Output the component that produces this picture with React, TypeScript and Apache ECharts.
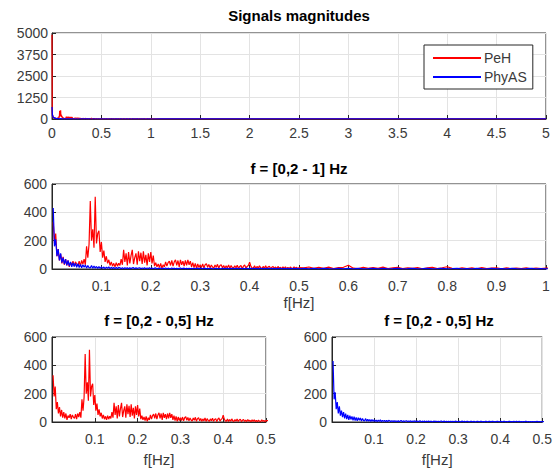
import React, { useEffect, useRef } from "react";
import * as echarts from "echarts";

// ---- data ----
const LOW_STEP = 0.0025; // 0.0025 .. 0.5 Hz
const HIGH_START = 0.51;
const HIGH_STEP = 0.01; // 0.51 .. 1.0 Hz
const TAIL_START = 1.1;
const TAIL_STEP = 0.1; // 1.1 .. 5.0 Hz

const PEH_DC = 4900;
const PHYAS_DC = 700;

const PEH_LOW = [
  330, 180, 250, 90, 140, 60, 105, 40, 85, 30,
  70, 25, 60, 15, 45, 30, 55, 20, 50, 35,
  25, 55, 20, 60, 35, 70, 30, 160, 80, 175,
  480, 200, 280, 150, 510, 180, 250, 270, 120, 190,
  80, 130, 50, 90, 40, 65, 25, 50, 20, 40,
  15, 45, 20, 40, 25, 70, 30, 135, 50, 110,
  25, 120, 40, 95, 135, 35, 80, 110, 30, 125,
  55, 115, 35, 125, 45, 100, 25, 110, 50, 120,
  40, 95, 20, 45, 15, 35, 10, 40, 5, 30,
  15, 50, 20, 45, 55, 25, 60, 20, 50, 65,
  25, 60, 15, 65, 30, 55, 20, 60, 25, 65,
  30, 55, 15, 45, 10, 40, 5, 35, 10, 30,
  10, 35, 8, 30, 38, 12, 32, 8, 28, 14,
  6, 28, 12, 33, 5, 24, 30, 8, 25, 5,
  22, 8, 28, 4, 24, 10, 6, 22, 9, 27,
  5, 18, 24, 4, 20, 28, 6, 18, 24, 48,
  20, 8, 5, 22, 4, 18, 6, 22, 8, 4,
  18, 5, 22, 4, 14, 20, 3, 12, 18, 4,
  14, 3, 18, 5, 12, 2, 15, 4, 16, 3,
  12, 2, 14, 5, 3, 16, 4, 12, 2, 10,
];
const PEH_HIGH = [
  8, 14, 4, 12, 5, 13, 3, 10, 12, 26,
  6, 3, 12, 4, 10, 5, 13, 3, 9, 11,
  3, 9, 4, 10, 2, 8, 11, 3, 9, 16,
  4, 2, 9, 3, 8, 2, 10, 3, 7, 9,
  2, 8, 2, 7, 3, 9, 2, 7, 2, 6,
];
const PEH_TAIL = [
  5, 4, 6, 3, 5, 4, 6, 3, 4, 5,
  3, 4, 5, 3, 4, 3, 5, 4, 3, 4,
  3, 4, 3, 5, 3, 4, 3, 4, 3, 4,
  3, 4, 3, 3, 4, 3, 4, 3, 3, 4,
];

const PHYAS_LOW = [
  430, 160, 210, 90, 140, 60, 110, 45, 80, 35,
  70, 25, 60, 20, 50, 15, 45, 18, 40, 12,
  38, 10, 32, 8, 30, 12, 28, 6, 25, 10,
  8, 24, 5, 20, 6, 18, 4, 17, 5, 15,
  4, 14, 3, 13, 5, 15, 2, 12, 4, 11,
  3, 12, 2, 11, 9, 2, 10, 2, 9, 3,
  8, 2, 9, 2, 8, 10, 2, 8, 3, 7,
  9, 2, 7, 3, 8, 2, 7, 3, 8, 2,
  7, 2, 6, 8, 1, 6, 2, 7, 1, 6,
  2, 7, 1, 6, 2, 1, 7, 2, 6, 1,
  6, 1, 5, 7, 1, 5, 6, 1, 5, 1,
  5, 1, 6, 1, 5, 2, 5, 6, 1, 4,
  5, 1, 4, 6, 1, 5, 1, 4, 5, 1,
  1, 5, 4, 1, 5, 1, 1, 5, 4, 1,
  4, 5, 1, 4, 1, 5, 4, 1, 4, 5,
  1, 4, 5, 1, 4, 1, 5, 4, 1, 4,
  4, 1, 4, 5, 1, 4, 1, 4, 5, 1,
  4, 1, 5, 1, 4, 4, 1, 5, 1, 4,
  1, 4, 1, 5, 4, 1, 4, 1, 4, 1,
  4, 1, 4, 1, 5, 1, 4, 1, 4, 1,
];
const PHYAS_HIGH = [
  4, 1, 4, 1, 4, 2, 1, 4, 1, 4,
  1, 4, 1, 2, 4, 1, 4, 1, 2, 4,
  1, 2, 4, 1, 2, 4, 1, 2, 4, 1,
  2, 4, 1, 2, 1, 4, 2, 1, 4, 1,
  2, 1, 4, 2, 1, 2, 4, 1, 2, 1,
];
const PHYAS_TAIL = [
  2, 2, 2, 2, 2, 2, 2, 2, 2, 2,
  2, 2, 2, 2, 2, 2, 2, 2, 2, 2,
  2, 2, 2, 2, 2, 2, 2, 2, 2, 2,
  2, 2, 2, 2, 2, 2, 2, 2, 2, 2,
];

const SERIES_NAMES = ["PeH", "PhyAS"];
const TITLES = [
  "Signals magnitudes",
  "f = [0,2 - 1] Hz",
  "f = [0,2 - 0,5] Hz",
  "f = [0,2 - 0,5] Hz",
];
const X_NAME = "f[Hz]";

// ---- helpers ----
const r4 = (v: number) => Math.round(v * 10000) / 10000;
function pairs(low: number[], high: number[], tail: number[]) {
  const out: [number, number][] = [];
  low.forEach((v, i) => out.push([r4(LOW_STEP * (i + 1)), v]));
  high.forEach((v, i) => out.push([r4(HIGH_START + HIGH_STEP * i), v]));
  tail.forEach((v, i) => out.push([r4(TAIL_START + TAIL_STEP * i), v]));
  return out;
}

const FONT = "'Liberation Sans', Arial, Helvetica, sans-serif";
const AX = "#262626";
const LBL = "#3a3a3a";
const GRID = "#e3e3e3";
const RED = "#ff0000";
const BLUE = "#0000ff";

export default function App() {
  const ref = useRef<HTMLDivElement>(null);
  useEffect(() => {
    if (!ref.current) return;
    const chart = echarts.init(ref.current, undefined, { renderer: "svg" });

    const peh = pairs(PEH_LOW, PEH_HIGH, PEH_TAIL);
    const phy = pairs(PHYAS_LOW, PHYAS_HIGH, PHYAS_TAIL);
    const pehTop: [number, number][] = [[0, PEH_DC], ...peh];
    const phyTop: [number, number][] = [[0, PHYAS_DC], ...phy];

    const grids = [
      { left: 52, top: 33, width: 494, height: 86 },
      { left: 52, top: 184, width: 494, height: 85 },
      { left: 52, top: 337, width: 214, height: 85 },
      { left: 332, top: 337, width: 214, height: 85 },
    ].map((g) => ({ ...g, show: true, borderColor: AX, borderWidth: 1, backgroundColor: "transparent" }));

    const axisLabel = { color: LBL, fontFamily: FONT, fontSize: 14 };
    const common = {
      axisLine: { show: true, onZero: false, lineStyle: { color: AX, width: 1 } },
      axisTick: { show: true, inside: true, length: 4, lineStyle: { color: AX } },
      splitLine: { show: true, lineStyle: { color: GRID, width: 1 } },
    };
    const fmtX = (v: number) => (v === 0 ? "" : String(Math.round(v * 100) / 100));
    const fmtX0 = (v: number) => String(Math.round(v * 100) / 100);
    const fmtY = (v: number) => String(Math.round(v));

    const xName = {
      name: X_NAME, nameLocation: "middle",
      nameTextStyle: { color: LBL, fontFamily: FONT, fontSize: 15 },
    };
    const xAxis = [
      { ...common, type: "value", gridIndex: 0, min: 0, max: 5, interval: 0.5, axisLabel: { ...axisLabel, margin: 7, formatter: fmtX0 } },
      { ...common, ...xName, nameGap: 26, type: "value", gridIndex: 1, min: 0, max: 1, interval: 0.1, axisLabel: { ...axisLabel, margin: 10, formatter: fmtX } },
      { ...common, ...xName, nameGap: 30, type: "value", gridIndex: 2, min: 0, max: 0.5, interval: 0.1, axisLabel: { ...axisLabel, margin: 10, formatter: fmtX } },
      { ...common, ...xName, nameGap: 30, type: "value", gridIndex: 3, min: 0, max: 0.5, interval: 0.1, axisLabel: { ...axisLabel, margin: 10, formatter: fmtX } },
    ];
    const yAxis = [
      { ...common, type: "value", gridIndex: 0, min: 0, max: 5000, interval: 1250, axisLabel: { ...axisLabel, margin: 4, formatter: fmtY } },
      { ...common, type: "value", gridIndex: 1, min: 0, max: 600, interval: 200, axisLabel: { ...axisLabel, margin: 5, formatter: fmtY } },
      { ...common, type: "value", gridIndex: 2, min: 0, max: 600, interval: 200, axisLabel: { ...axisLabel, margin: 5, formatter: fmtY } },
      { ...common, type: "value", gridIndex: 3, min: 0, max: 600, interval: 200, axisLabel: { ...axisLabel, margin: 5, formatter: fmtY } },
    ];

    const line = (name: string, color: string, idx: number, data: [number, number][], z: number) => ({
      name, type: "line", xAxisIndex: idx, yAxisIndex: idx, data,
      symbol: "none", clip: true, z,
      lineStyle: { color, width: 1.2 }, itemStyle: { color },
    });

    const titleStyle = { color: "#000", fontFamily: FONT, fontSize: 15, fontWeight: "bold" as const };
    const title = [
      { text: TITLES[0], left: 299, top: 8 },
      { text: TITLES[1], left: 299, top: 161 },
      { text: TITLES[2], left: 159, top: 313 },
      { text: TITLES[3], left: 439, top: 313 },
    ].map((t) => ({ ...t, textAlign: "center", textStyle: titleStyle, padding: 0 }));

    chart.setOption({
      animation: false,
      backgroundColor: "#fff",
      title,
      legend: {
        data: SERIES_NAMES,
        orient: "vertical",
        left: 424,
        top: 45,
        width: 108,
        backgroundColor: "#fff",
        borderColor: AX,
        borderWidth: 1,
        borderRadius: 0,
        padding: [6, 6, 5, 9],
        icon: "rect",
        itemWidth: 48,
        itemHeight: 2,
        itemGap: 5,
        textStyle: { color: LBL, fontFamily: FONT, fontSize: 14, padding: [0, 4, 0, -2] },
        z: 10,
      },
      grid: grids,
      xAxis,
      yAxis,
      series: [
        line(SERIES_NAMES[0], RED, 0, pehTop, 2),
        line(SERIES_NAMES[1], BLUE, 0, phyTop, 3),
        line(SERIES_NAMES[0], RED, 1, peh, 2),
        line(SERIES_NAMES[1], BLUE, 1, phy, 3),
        line(SERIES_NAMES[0], RED, 2, peh, 2),
        line(SERIES_NAMES[1], BLUE, 3, phy, 3),
      ],
    });
    return () => chart.dispose();
  }, []);
  return (
    <div
      ref={ref}
      style={{ position: "fixed", left: 0, top: 0, width: 555, height: 470, background: "#fff" }}
    />
  );
}
